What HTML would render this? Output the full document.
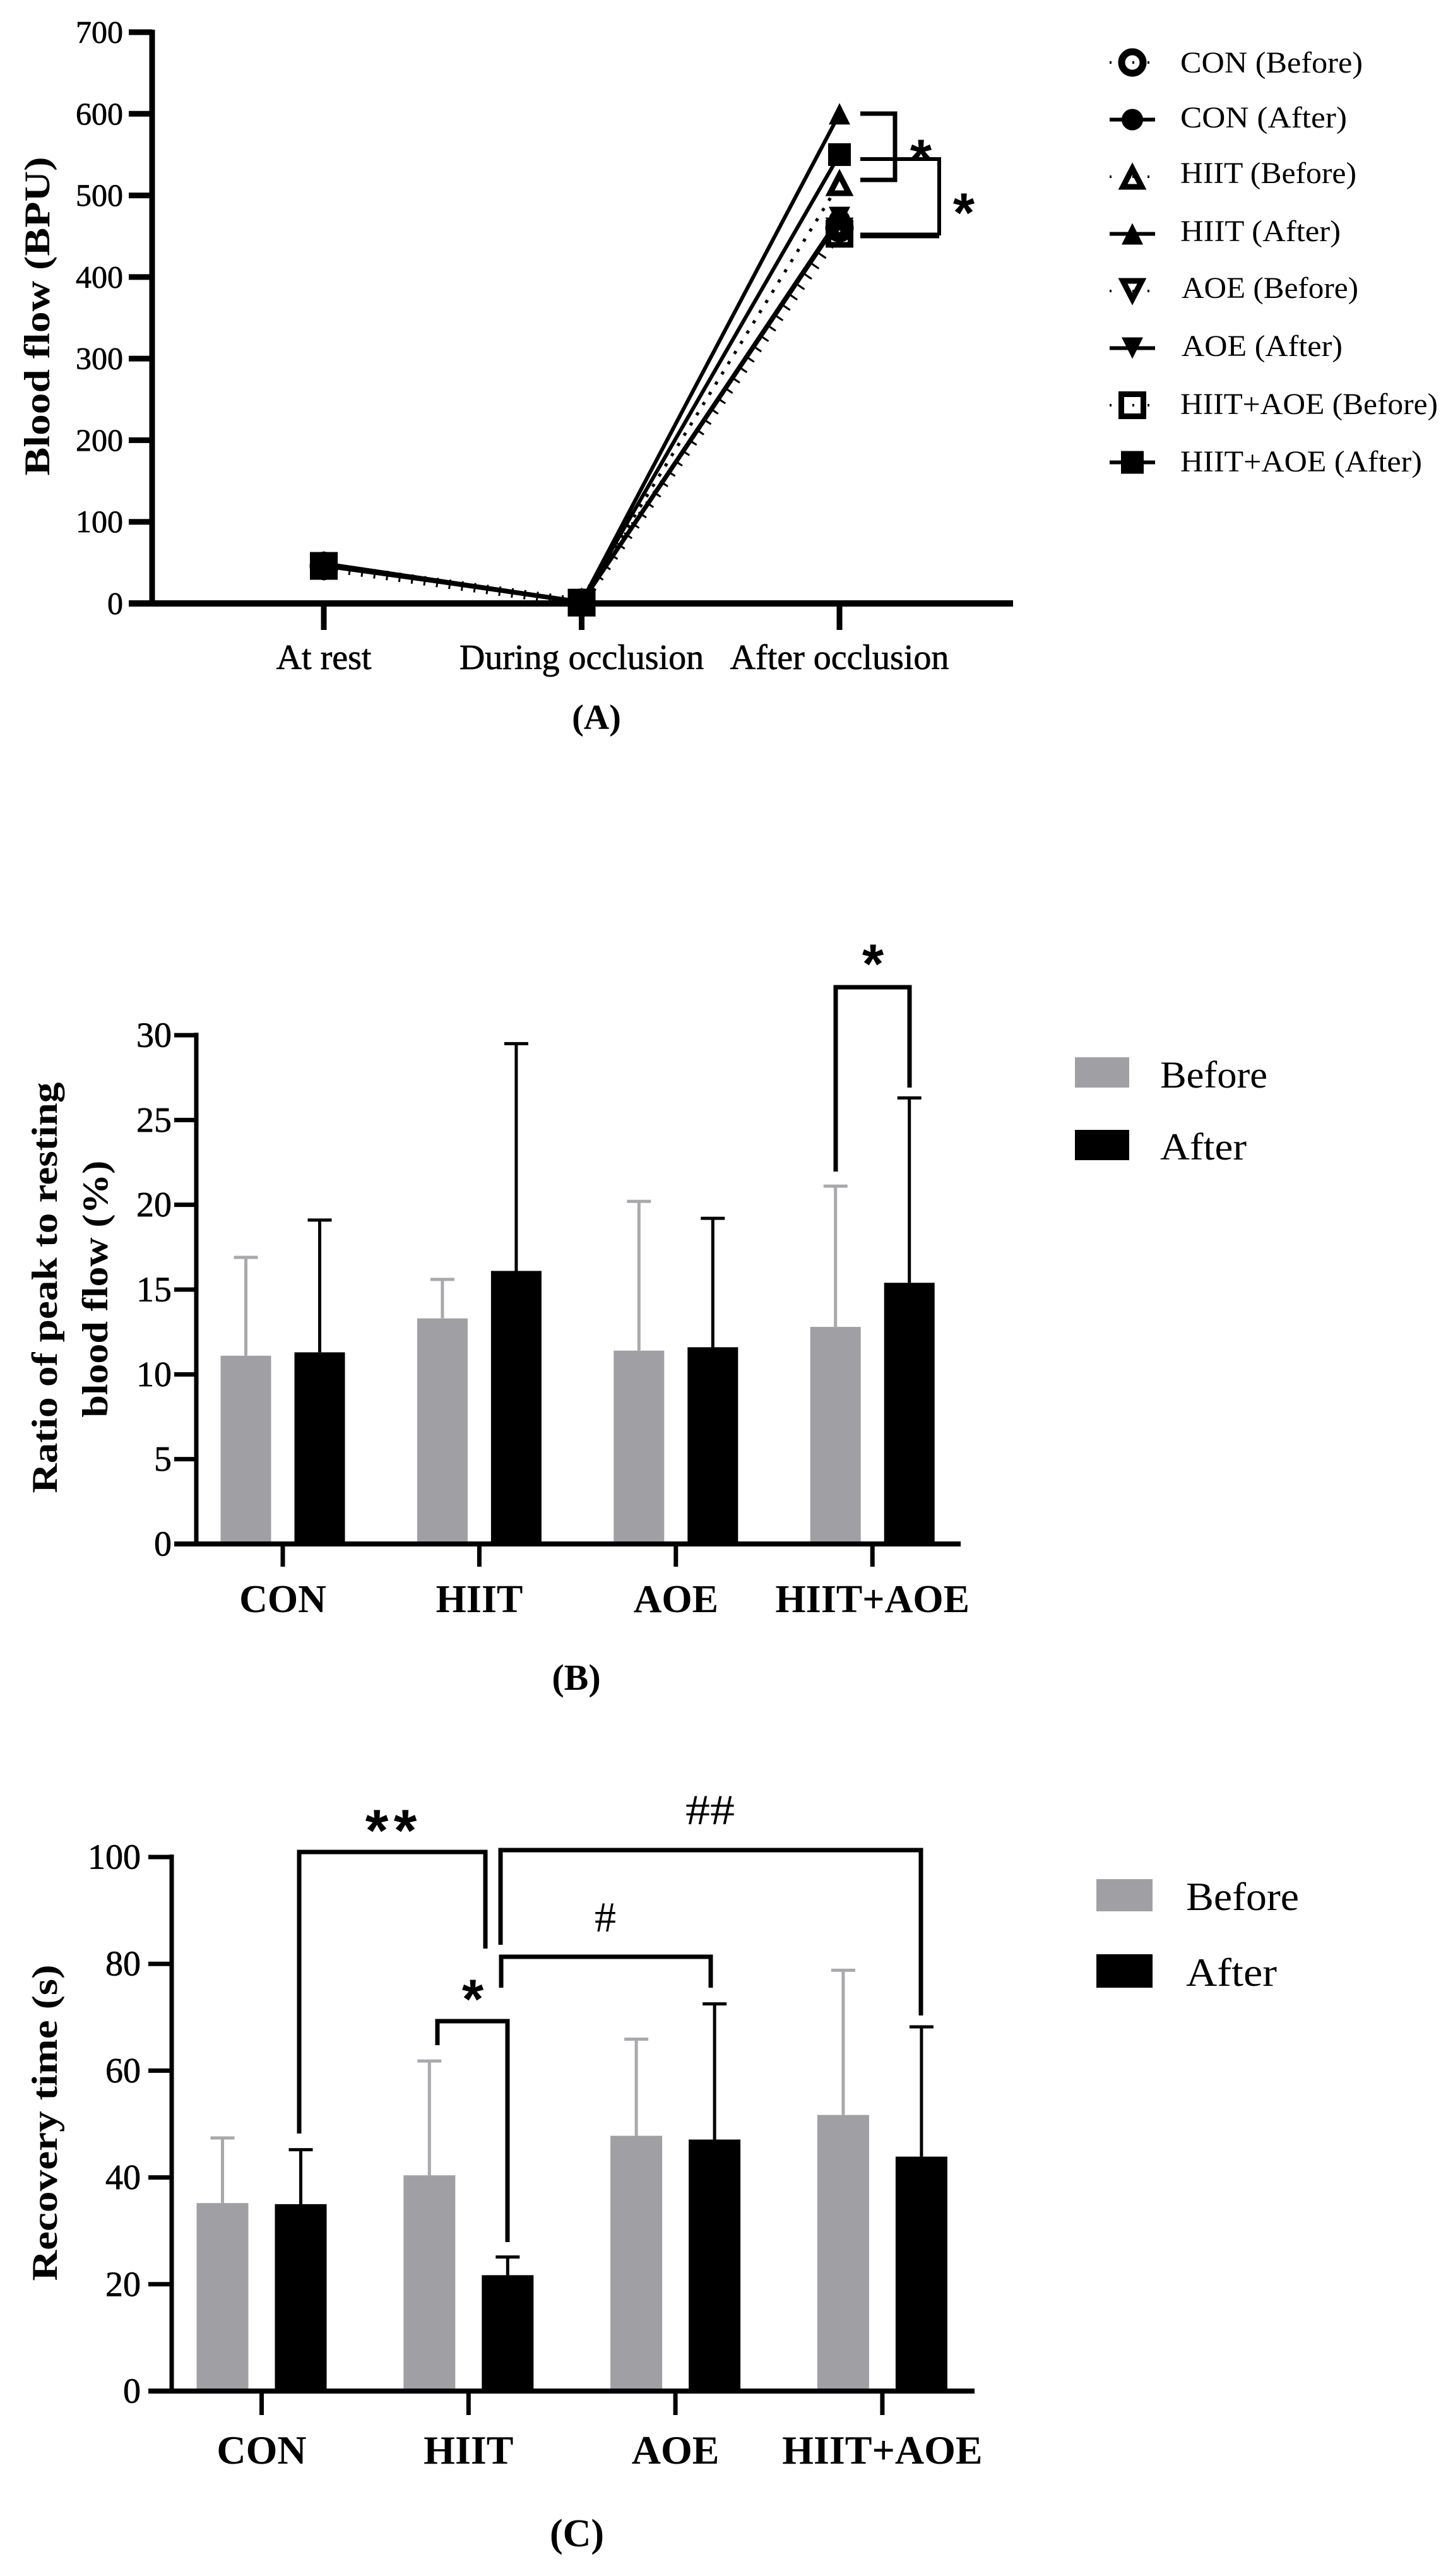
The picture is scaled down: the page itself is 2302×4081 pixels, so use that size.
<!DOCTYPE html>
<html lang="en">
<head>
<meta charset="utf-8">
<title>Blood flow and recovery time charts</title>
<style>
html,body{margin:0;padding:0;background:#fff;}
svg{display:block;}
text{font-family:"Liberation Serif","DejaVu Serif",serif;fill:#000;}
.b{font-weight:bold;}
</style>
</head>
<body>
<svg id="fig" xmlns="http://www.w3.org/2000/svg" width="2302" height="4081" viewBox="0 0 2302 4081">
<rect x="0" y="0" width="2302" height="4081" fill="#fff"/>

<g id="panelA">
  <text class="b" transform="translate(78,501) rotate(-90)" text-anchor="middle" font-size="57" textLength="505" lengthAdjust="spacingAndGlyphs">Blood flow (BPU)</text>
  <text class="b" x="945" y="1155" text-anchor="middle" font-size="56">(A)</text>
  <g fill="none" stroke="#000">
    <path d="M1363 180H1418V285H1363" stroke-width="7"/>
    <path d="M1363 252H1488V373" stroke-width="6"/>
    <path d="M1488 373H1363" stroke-width="9"/>
  </g>
  <text class="b" x="1459" y="282" text-anchor="middle" font-size="88" style="font-family:'Liberation Sans',sans-serif">*</text>
  <text class="b" x="1527" y="367" text-anchor="middle" font-size="88" style="font-family:'Liberation Sans',sans-serif">*</text>
  <g font-size="48">
    <text x="1870" y="115" textLength="289" lengthAdjust="spacingAndGlyphs">CON (Before)</text>
    <text x="1870" y="202" textLength="264" lengthAdjust="spacingAndGlyphs">CON (After)</text>
    <text x="1870" y="290" textLength="279" lengthAdjust="spacingAndGlyphs">HIIT (Before)</text>
    <text x="1870" y="382" textLength="254" lengthAdjust="spacingAndGlyphs">HIIT (After)</text>
    <text x="1872" y="472" textLength="280" lengthAdjust="spacingAndGlyphs">AOE (Before)</text>
    <text x="1872" y="564" textLength="255" lengthAdjust="spacingAndGlyphs">AOE (After)</text>
    <text x="1870" y="656" textLength="408" lengthAdjust="spacingAndGlyphs">HIIT+AOE (Before)</text>
    <text x="1870" y="747" textLength="383" lengthAdjust="spacingAndGlyphs">HIIT+AOE (After)</text>
  </g>
</g>

<g id="panelB">
  <text class="b" transform="translate(90,2040) rotate(-90)" text-anchor="middle" font-size="57" textLength="651" lengthAdjust="spacingAndGlyphs">Ratio of peak to resting</text>
  <text class="b" transform="translate(170,2042) rotate(-90)" text-anchor="middle" font-size="57" textLength="407" lengthAdjust="spacingAndGlyphs">blood flow (%)</text>
  <text class="b" x="913" y="2677" text-anchor="middle" font-size="58">(B)</text>
  <rect x="1703" y="1675" width="86" height="48" fill="#a0a0a4"/>
  <rect x="1703" y="1790" width="86" height="48" fill="#000"/>
  <text x="1838" y="1723" font-size="60" textLength="170" lengthAdjust="spacingAndGlyphs">Before</text>
  <text x="1838" y="1837" font-size="60" textLength="137" lengthAdjust="spacingAndGlyphs">After</text>
  <path d="M1324 1856V1564H1441V1723" fill="none" stroke="#000" stroke-width="7"/>
  <text class="b" x="1383" y="1557" text-anchor="middle" font-size="88" style="font-family:'Liberation Sans',sans-serif">*</text>
</g>

<g id="panelC">
  <text class="b" transform="translate(90,3363) rotate(-90)" text-anchor="middle" font-size="57" textLength="501" lengthAdjust="spacingAndGlyphs">Recovery time (s)</text>
  <text class="b" x="914" y="4034" text-anchor="middle" font-size="62">(C)</text>
  <rect x="1737" y="2977" width="89" height="51" fill="#a0a0a4"/>
  <rect x="1737" y="3096" width="89" height="53" fill="#000"/>
  <text x="1879" y="3026" font-size="64" textLength="179" lengthAdjust="spacingAndGlyphs">Before</text>
  <text x="1879" y="3146" font-size="64" textLength="144" lengthAdjust="spacingAndGlyphs">After</text>
  <g fill="none" stroke="#000" stroke-width="7">
    <path d="M474 3380V2934H769V3087"/>
    <path d="M793 3081V2931H1459V3193"/>
    <path d="M794 3149V3100H1126V3149"/>
    <path d="M693 3240V3202H804V3552"/>
  </g>
  <g class="b" font-size="94" text-anchor="middle">
    <text x="597" y="2932" style="font-family:'Liberation Sans',sans-serif">*</text>
    <text x="642" y="2932" style="font-family:'Liberation Sans',sans-serif">*</text>
    <text x="749" y="3197" font-size="88" style="font-family:'Liberation Sans',sans-serif">*</text>
  </g>
  <text x="1125" y="2890" text-anchor="middle" font-size="68" textLength="78" lengthAdjust="spacingAndGlyphs">##</text>
  <text x="959" y="3060" text-anchor="middle" font-size="68">#</text>
</g>
</svg>

<script>
// ---------- Panel A data ----------
const categoriesA = ['At rest', 'During occlusion', 'After occlusion'];
const yTicksA = [0, 100, 200, 300, 400, 500, 600, 700];
const conBeforeA = [46, 1, 460];
const conAfterA = [47, 1, 470];
const hiitBeforeA = [47, 2, 515];
const hiitAfterA = [49, 2, 600];
const aoeBeforeA = [45, 1, 457];
const aoeAfterA = [46, 2, 473];
const comboBeforeA = [46, 1, 453];
const comboAfterA = [48, 2, 550];

// ---------- Panel B data ----------
const categoriesB = ['CON', 'HIIT', 'AOE', 'HIIT+AOE'];
const yTicksB = [0, 5, 10, 15, 20, 25, 30];
const beforeB = [11.1, 13.3, 11.4, 12.8];
const afterB = [11.3, 16.1, 11.6, 15.4];
const beforeSdB = [5.8, 2.3, 8.8, 8.3];
const afterSdB = [7.8, 13.4, 7.6, 10.9];

// ---------- Panel C data ----------
const categoriesC = ['CON', 'HIIT', 'AOE', 'HIIT+AOE'];
const yTicksC = [0, 20, 40, 60, 80, 100];
const beforeC = [35.2, 40.4, 47.8, 51.7];
const afterC = [35, 21.7, 47.1, 43.9];
const beforeSdC = [12.2, 21.4, 18.1, 27.1];
const afterSdC = [10.2, 3.4, 25.4, 24.3];

const NS = 'http://www.w3.org/2000/svg';

function make(parent, tag, attrs) {
  const el = document.createElementNS(NS, tag);
  for (const k in attrs) el.setAttribute(k, attrs[k]);
  parent.appendChild(el);
  return el;
}

// Marker glyphs; each builds its own shape around (x, y)
function drawMarker(parent, kind, x, y, label) {
  let el;
  if (kind === 'circle-open') {
    el = make(parent, 'circle', {cx: x, cy: y, r: 17, fill: '#fff', stroke: '#000', 'stroke-width': 11});
  } else if (kind === 'circle') {
    el = make(parent, 'circle', {cx: x, cy: y, r: 17, fill: '#000'});
  } else if (kind === 'tri-open') {
    el = make(parent, 'polygon', {points: (x - 15) + ',' + (y + 16) + ' ' + (x + 15) + ',' + (y + 16) + ' ' + x + ',' + (y - 13), fill: '#fff', stroke: '#000', 'stroke-width': 9});
  } else if (kind === 'tri') {
    el = make(parent, 'polygon', {points: (x - 17) + ',' + (y + 17) + ' ' + (x + 17) + ',' + (y + 17) + ' ' + x + ',' + (y - 17), fill: '#000'});
  } else if (kind === 'tridown-open') {
    el = make(parent, 'polygon', {points: (x - 15) + ',' + (y - 16) + ' ' + (x + 15) + ',' + (y - 16) + ' ' + x + ',' + (y + 13), fill: '#fff', stroke: '#000', 'stroke-width': 9});
  } else if (kind === 'tridown') {
    el = make(parent, 'polygon', {points: (x - 17) + ',' + (y - 17) + ' ' + (x + 17) + ',' + (y - 17) + ' ' + x + ',' + (y + 17), fill: '#000'});
  } else if (kind === 'square-open') {
    el = make(parent, 'rect', {x: x - 17.5, y: y - 17.5, width: 35, height: 35, fill: '#fff', stroke: '#000', 'stroke-width': 9});
  } else {
    el = make(parent, 'rect', {x: x - 18, y: y - 18, width: 36, height: 36, fill: '#000'});
  }
  
  
  return el;
}

// Shared axis drawing
function drawAxes(panel, o) {
  const yAxis = make(panel, 'line', {x1: o.x0, x2: o.x0, y1: o.y(o.yTicks[o.yTicks.length - 1]) - 4, y2: o.y(0) + 4, stroke: '#000', 'stroke-width': o.axisW});
  
  
  const xAxis = make(panel, 'line', {x1: o.tickLeft, x2: o.x1, y1: o.y(0), y2: o.y(0), stroke: '#000', 'stroke-width': o.axisW + 1});
  
  
  o.yTicks.forEach(function (t) {
    const tick = make(panel, 'line', {x1: o.tickLeft, x2: o.x0, y1: o.y(t), y2: o.y(t), stroke: '#000', 'stroke-width': o.axisW});
    
    
    const lab = make(panel, 'text', {x: o.labelRight, y: o.y(t) + o.yFont * 0.33, 'text-anchor': 'end', 'font-size': o.yFont, stroke: '#000', 'stroke-width': 0.7});
    lab.textContent = t;
    
    
  });
  o.categories.forEach(function (c, i) {
    const cx = o.x(i);
    const tick = make(panel, 'line', {x1: cx, x2: cx, y1: o.y(0), y2: o.tickBottom, stroke: '#000', 'stroke-width': o.axisW});
    
    
    const lab = make(panel, 'text', {x: cx, y: o.xBase, 'text-anchor': 'middle', 'font-size': o.xFont, 'font-weight': o.xBold ? 'bold' : 'normal'});
    if (!o.xBold) { lab.setAttribute('stroke', '#000'); lab.setAttribute('stroke-width', '0.7'); }
    lab.textContent = c;
    
    
  });
}

// ---------- Panel A ----------
const panelA = document.getElementById('panelA');
const yA = function (v) { return 956 - v * 905 / 700; };
const xA = function (i) { return 513 + i * 408.5; };

const seriesA = [
  {id: 'con-before', values: conBeforeA, marker: 'circle-open', dash: '2 18', width: 5, clear: true},
  {id: 'con-after', values: conAfterA, marker: 'circle', dash: '', width: 6, clear: false},
  {id: 'hiit-before', values: hiitBeforeA, marker: 'tri-open', dash: '5 14', width: 5, clear: false},
  {id: 'hiit-after', values: hiitAfterA, marker: 'tri', dash: '', width: 6, clear: false},
  {id: 'aoe-before', values: aoeBeforeA, marker: 'tridown-open', dash: '3 17', width: 15, clear: true},
  {id: 'aoe-after', values: aoeAfterA, marker: 'tridown', dash: '', width: 6, clear: false},
  {id: 'combo-before', values: comboBeforeA, marker: 'square-open', dash: '2 18', width: 5, clear: true},
  {id: 'combo-after', values: comboAfterA, marker: 'square', dash: '', width: 6, clear: false}
];

drawAxes(panelA, {
  id: 'a', x: xA, y: yA, x0: 241, x1: 1605, tickLeft: 204, labelRight: 195, tickBottom: 998,
  axisW: 9, yTicks: yTicksA, categories: categoriesA, yFont: 50, xFont: 56, xBase: 1060, xBold: false
});

seriesA.forEach(function (s) {
  const pts = s.values.map(function (v, i) { return xA(i) + ',' + yA(v); }).join(' ');
  const line = make(panelA, 'polyline', {points: pts, fill: 'none', stroke: '#000', 'stroke-width': s.width});
  if (s.dash) line.setAttribute('stroke-dasharray', s.dash);
  
  
});
// Hollow markers first, filled markers on top, so the overlap reads as one dark cluster
seriesA.filter(function (s) { return s.dash; }).concat(seriesA.filter(function (s) { return !s.dash; })).forEach(function (s) {
  s.values.forEach(function (v, i) {
    const m = drawMarker(panelA, s.marker, xA(i), yA(v), 'point-' + s.id);
    if (s.clear) m.setAttribute('fill', 'none');
  });
});

seriesA.forEach(function (s, i) {
  const ly = 99 + i * 90.5;
  drawMarker(panelA, s.marker, 1794, ly, 'legend-marker-' + s.id);
  const sample = make(panelA, 'line', {x1: 1758, x2: 1830, y1: ly, y2: ly, stroke: '#000', 'stroke-width': 6});
  if (s.dash) { sample.setAttribute('stroke-dasharray', '3 33 3 21'); sample.setAttribute('stroke-width', '4'); }
  
  
});

// ---------- Bar panels ----------
function drawBars(panel, o) {
  o.before.forEach(function (v, i) {
    const cx = o.x(i) - o.offset;
    const top = o.y(v + o.beforeSd[i]);
    const err = make(panel, 'line', {x1: cx, x2: cx, y1: top, y2: o.y(v), stroke: '#a9a9ad', 'stroke-width': 5});
    
    
    const cap = make(panel, 'line', {x1: cx - 19, x2: cx + 19, y1: top, y2: top, stroke: '#a9a9ad', 'stroke-width': 5});
    
    
    const bar = make(panel, 'rect', {x: cx - o.barW / 2, y: o.y(v), width: o.barW, height: o.y(0) - o.y(v), fill: '#a0a0a4'});
    
    
  });
  o.after.forEach(function (v, i) {
    const cx = o.x(i) + o.offset;
    const top = o.y(v + o.afterSd[i]);
    const err = make(panel, 'line', {x1: cx, x2: cx, y1: top, y2: o.y(v), stroke: '#000', 'stroke-width': 5});
    
    
    const cap = make(panel, 'line', {x1: cx - 19, x2: cx + 19, y1: top, y2: top, stroke: '#000', 'stroke-width': 5});
    
    
    const bar = make(panel, 'rect', {x: cx - o.barW / 2, y: o.y(v), width: o.barW, height: o.y(0) - o.y(v), fill: '#000'});
    
    
  });
}

const panelB = document.getElementById('panelB');
const yB = function (v) { return 2446 - v * 806 / 30; };
const xB = function (i) { return 448 + i * 311.4; };
drawBars(panelB, {id: 'b', x: xB, y: yB, offset: 58.5, barW: 80, before: beforeB, after: afterB, beforeSd: beforeSdB, afterSd: afterSdB});
drawAxes(panelB, {
  id: 'b', x: xB, y: yB, x0: 311, x1: 1522, tickLeft: 276, labelRight: 272, tickBottom: 2482,
  axisW: 7, yTicks: yTicksB, categories: categoriesB, yFont: 56, xFont: 62, xBase: 2554, xBold: true
});

const panelC = document.getElementById('panelC');
const yC = function (v) { return 3788 - v * 846 / 100; };
const xC = function (i) { return 414.5 + i * 327.8; };
drawBars(panelC, {id: 'c', x: xC, y: yC, offset: 62, barW: 82, before: beforeC, after: afterC, beforeSd: beforeSdC, afterSd: afterSdC});
drawAxes(panelC, {
  id: 'c', x: xC, y: yC, x0: 272, x1: 1544, tickLeft: 235, labelRight: 223, tickBottom: 3826,
  axisW: 7, yTicks: yTicksC, categories: categoriesC, yFont: 56, xFont: 64, xBase: 3903, xBold: true
});
</script>
</body>
</html>
